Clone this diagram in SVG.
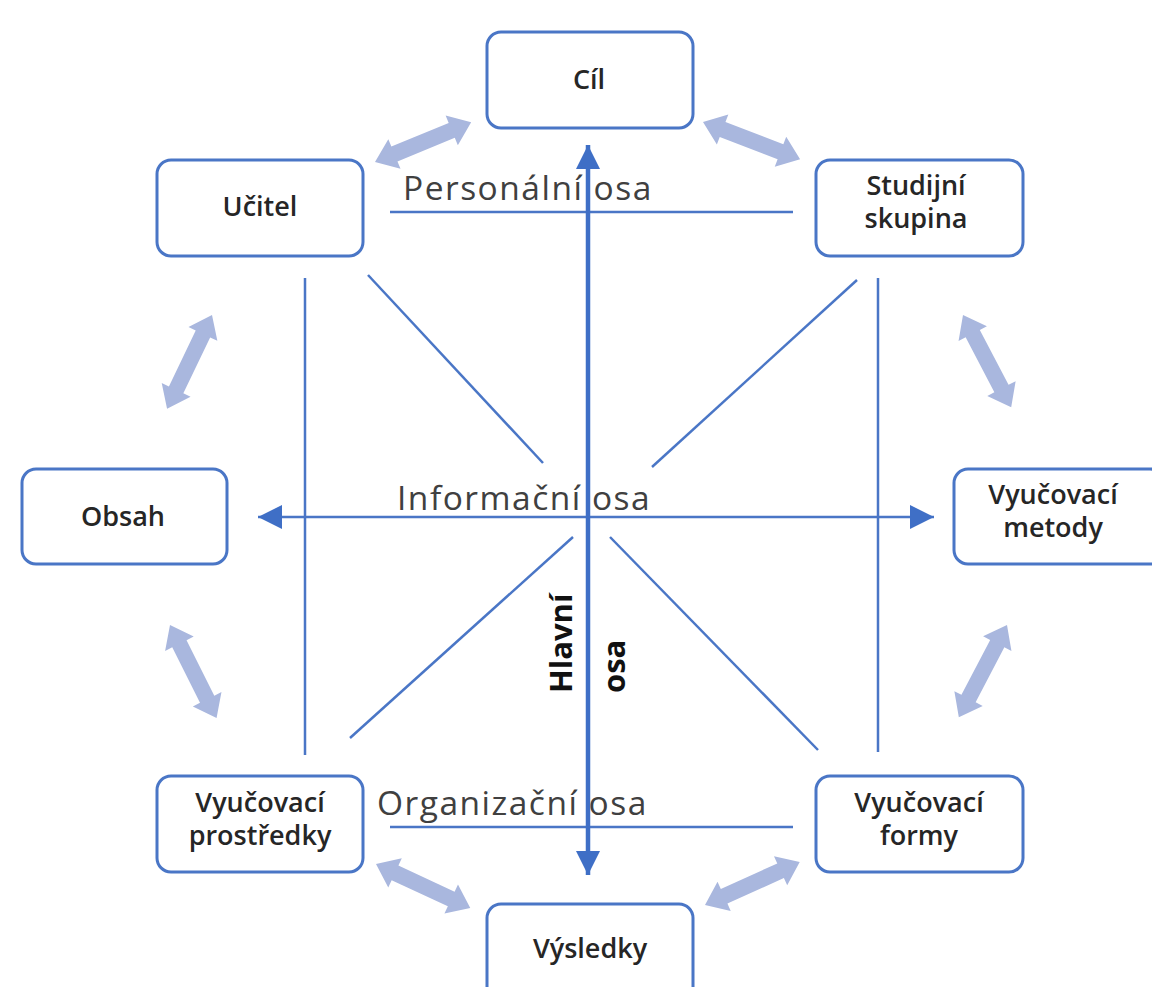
<svg xmlns="http://www.w3.org/2000/svg" xmlns:xlink="http://www.w3.org/1999/xlink" width="1152" height="987" viewBox="0 0 1152 987">
<style>
.box{fill:#fff;stroke:#4a76c6;stroke-width:3}
.nt{font-family:"Open Sans","Liberation Sans",sans-serif;font-weight:600;font-size:27px;fill:#262626;text-anchor:middle}
.ax{font-family:"Open Sans","Liberation Sans",sans-serif;font-size:33.5px;fill:#404040;letter-spacing:1.5px}
.ln{stroke:#4a76c6;stroke-width:2.5;fill:none}
.main{stroke:#3f6fc6;stroke-width:4.5;fill:none}
.dbl{fill:#a9b7de}
.hl{font-family:"Open Sans","Liberation Sans",sans-serif;font-weight:700;font-size:31px;fill:#111}
</style>
<defs>
<marker id="ah" markerUnits="userSpaceOnUse" markerWidth="24" markerHeight="24" refX="24" refY="12" orient="auto-start-reverse" viewBox="0 0 24 24">
<path d="M0,0 L24,12 L0,24 z" fill="#3f6fc6"/>
</marker>
<path id="dbl" d="M0,0 L21,-16 L21,-8 L83,-8 L83,-16 L104,0 L83,16 L83,8 L21,8 L21,16 z"/>
</defs>
<g id="fat-arrows" class="dbl">
<use xlink:href="#dbl" transform="translate(375,162) rotate(-22.4)"/>
<use xlink:href="#dbl" transform="translate(703,122) rotate(21)"/>
<use xlink:href="#dbl" transform="translate(212,315) rotate(115.6)"/>
<use xlink:href="#dbl" transform="translate(963,315) rotate(62.4)"/>
<use xlink:href="#dbl" transform="translate(170,625) rotate(63.4)"/>
<use xlink:href="#dbl" transform="translate(1007,625) rotate(117.6)"/>
<use xlink:href="#dbl" transform="translate(376,864) rotate(25)"/>
<use xlink:href="#dbl" transform="translate(705,905) rotate(-24.4)"/>
</g>
<g id="axis-labels">
<text class="ax" x="403" y="200">Personální osa</text>
<text class="ax" x="397" y="510">Informační osa</text>
<text class="ax" x="377" y="815">Organizační osa</text>
<text class="hl" transform="translate(572,693) rotate(-90)">Hlavní<tspan x="0" y="53">osa</tspan></text>
</g>
<g id="connectors">
<line class="ln" x1="390" y1="212" x2="793" y2="212"/>
<line class="ln" x1="390" y1="827" x2="793" y2="827"/>
<line class="ln" x1="305" y1="278" x2="305" y2="755"/>
<line class="ln" x1="878" y1="278" x2="878" y2="752"/>
<line class="ln" x1="368" y1="275" x2="543" y2="463"/>
<line class="ln" x1="857" y1="280" x2="652" y2="467"/>
<line class="ln" x1="573" y1="537" x2="350" y2="738"/>
<line class="ln" x1="610" y1="537" x2="818" y2="750"/>
<line class="ln" x1="258" y1="517" x2="934" y2="517" marker-start="url(#ah)" marker-end="url(#ah)"/>
<line class="main" x1="588" y1="875" x2="588" y2="145" marker-start="url(#ah)" marker-end="url(#ah)"/>
</g>
<g id="cil"><rect class="box" x="487" y="32" width="206" height="96" rx="14"/><text class="nt" x="589" y="89">Cíl</text></g>
<g id="ucitel"><rect class="box" x="157" y="160" width="206" height="96" rx="14"/><text class="nt" x="260" y="216">Učitel</text></g>
<g id="studijni-skupina"><rect class="box" x="816" y="160" width="207" height="96" rx="14"/><text class="nt" x="916" y="195">Studijní<tspan x="916" y="228">skupina</tspan></text></g>
<g id="obsah"><rect class="box" x="22" y="469" width="205" height="95" rx="14"/><text class="nt" x="123" y="526">Obsah</text></g>
<g id="vyucovaci-metody"><rect class="box" x="954" y="469" width="210" height="95" rx="14"/><text class="nt" x="1053" y="504">Vyučovací<tspan x="1053" y="537">metody</tspan></text></g>
<g id="vyucovaci-prostredky"><rect class="box" x="157" y="776" width="206" height="96" rx="14"/><text class="nt" x="260" y="812">Vyučovací<tspan x="260" y="845">prostředky</tspan></text></g>
<g id="vyucovaci-formy"><rect class="box" x="816" y="776" width="207" height="96" rx="14"/><text class="nt" x="919" y="812">Vyučovací<tspan x="919" y="845">formy</tspan></text></g>
<g id="vysledky"><rect class="box" x="487" y="904" width="206" height="110" rx="14"/><text class="nt" x="590" y="958">Výsledky</text></g>
</svg>
